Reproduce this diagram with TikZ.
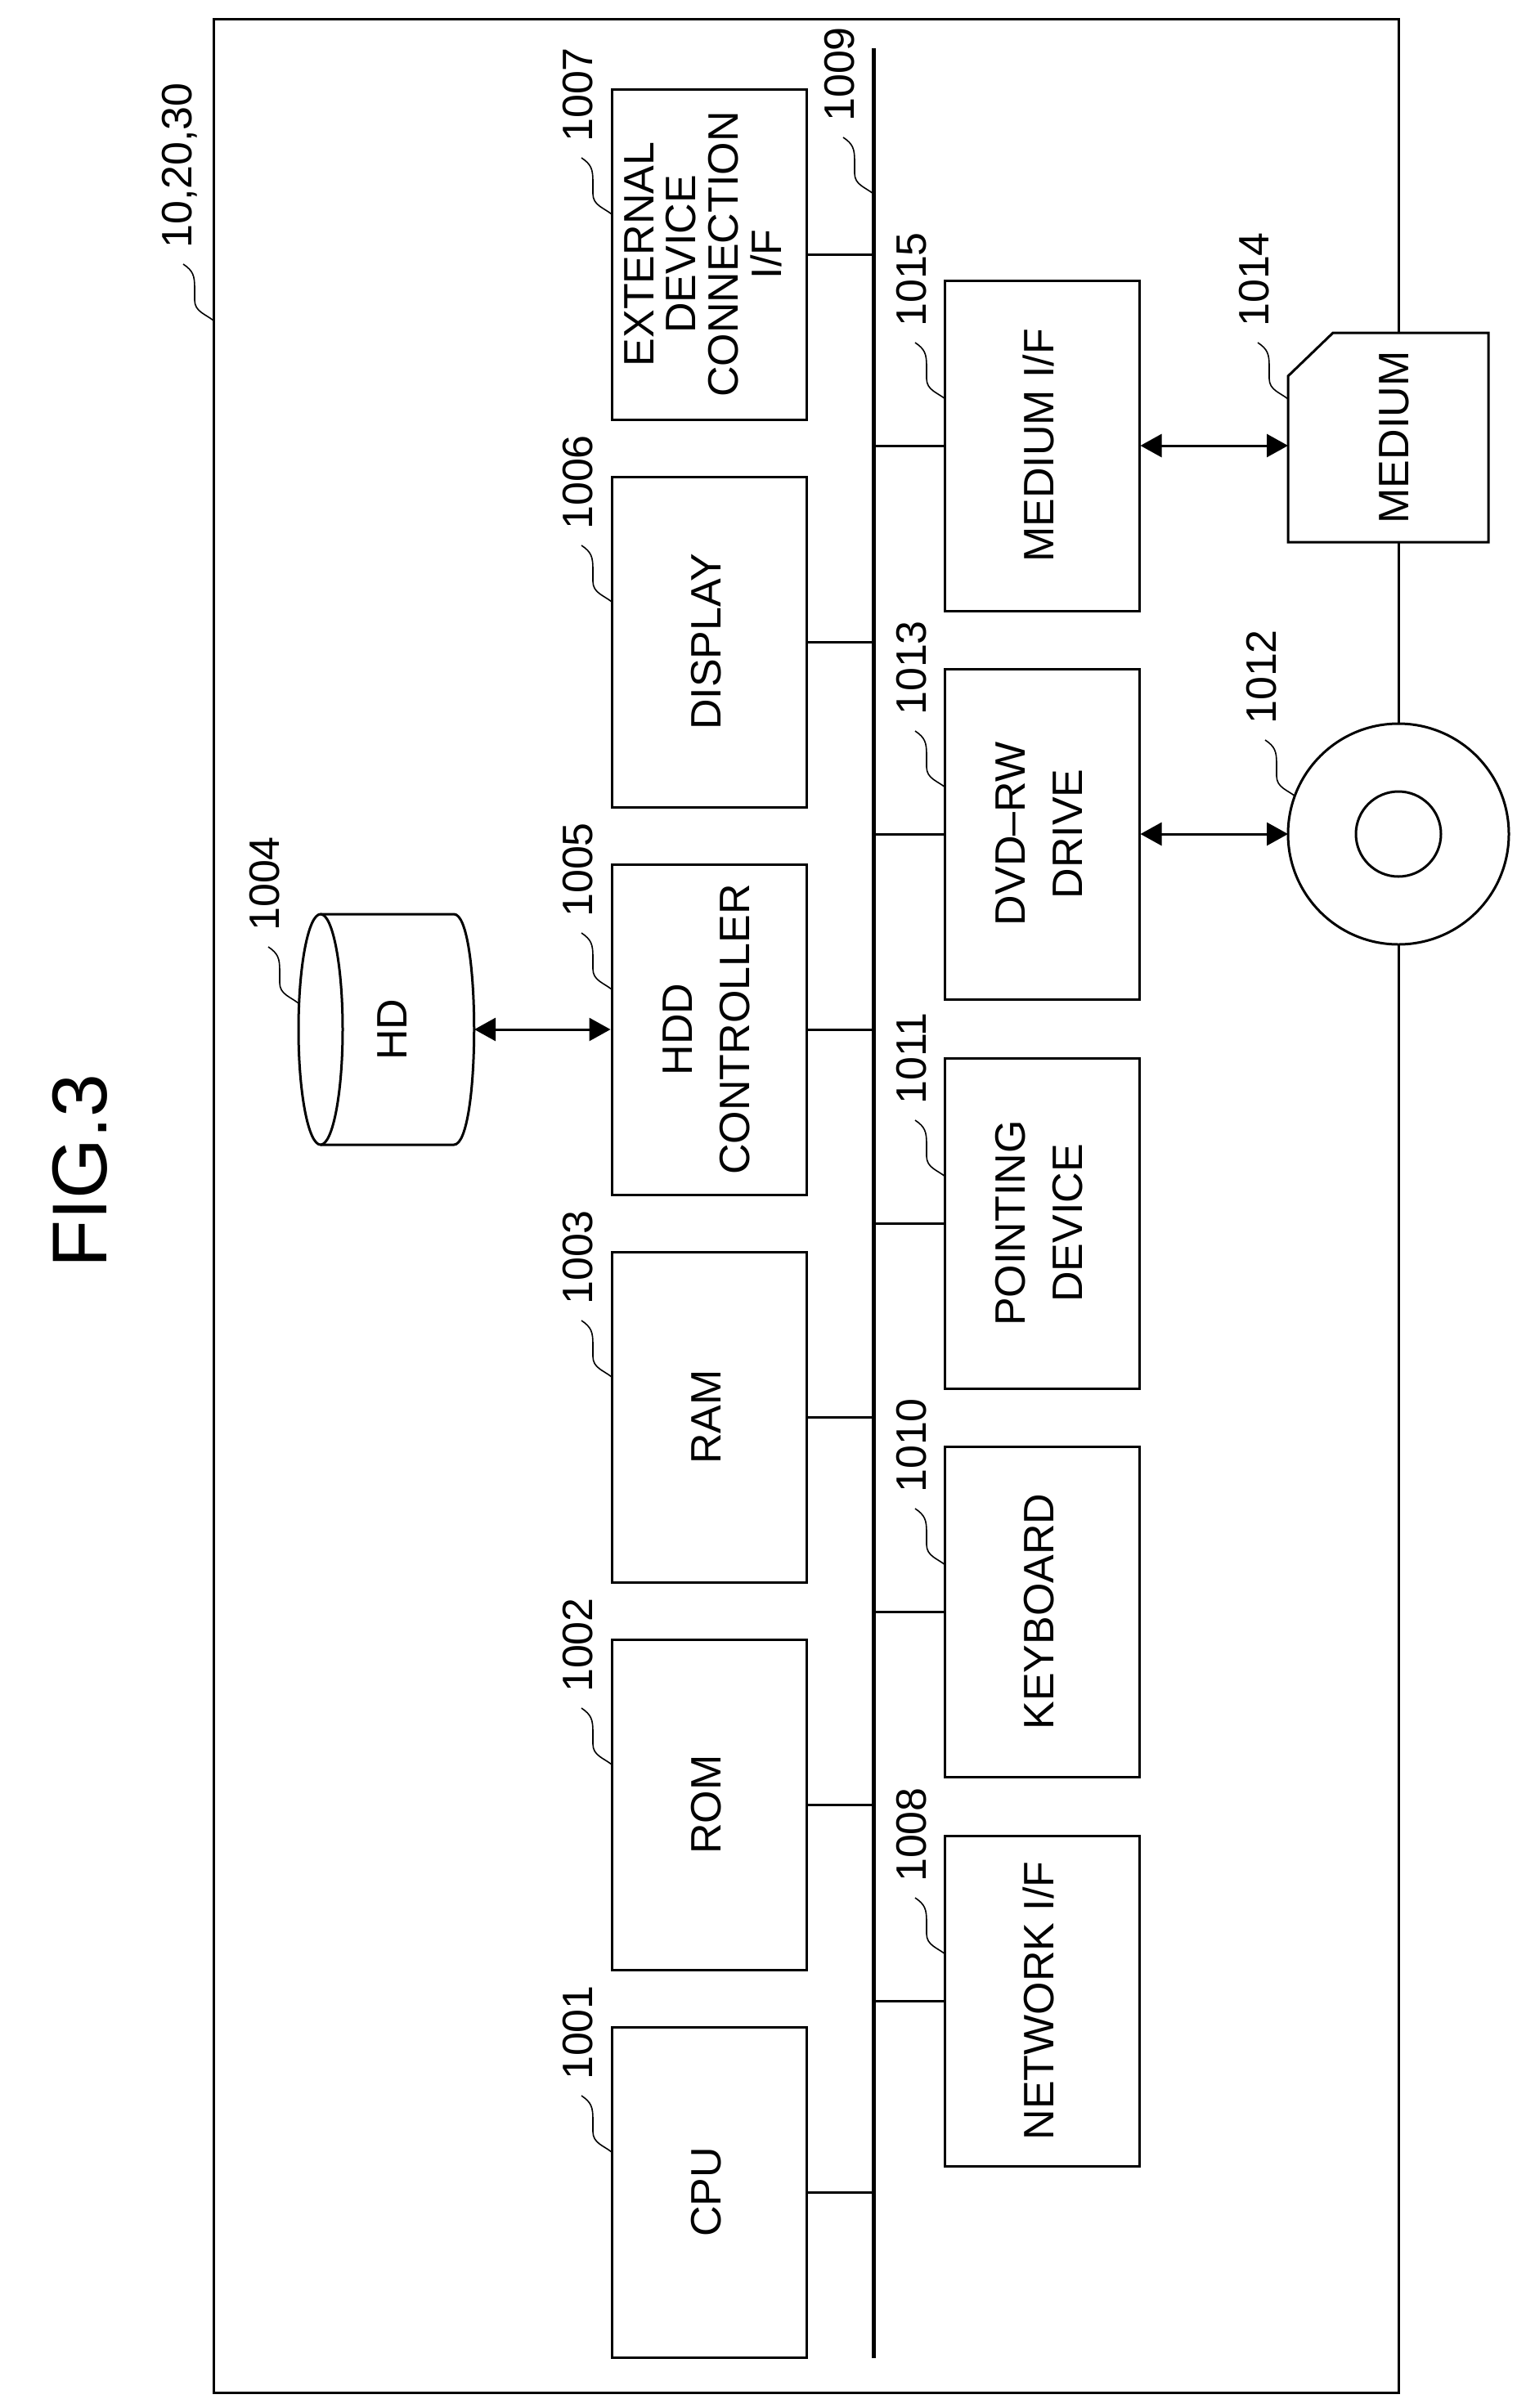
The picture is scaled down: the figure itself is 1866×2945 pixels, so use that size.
\documentclass[tikz,border=0pt]{standalone}
\usepackage{fontspec}
\setmainfont{Liberation Sans}
\usetikzlibrary{arrows.meta,calc}
\begin{document}
\begin{tikzpicture}[x=1pt,y=-1pt,
  box/.style={draw,line width=3pt,minimum width=238pt,minimum height=404pt,inner sep=0pt,font=\fontsize{52}{70}\selectfont},
  conn/.style={line width=3pt},
  dbl/.style={line width=3pt,{Triangle[length=26pt,width=28pt]}-{Triangle[length=26pt,width=28pt]}},
  sq/.style={line width=1.6pt},
  lab/.style={rotate=90,anchor=west,inner sep=0pt,font=\fontsize{52}{52}\selectfont}]
\newcommand{\rt}[1]{\rotatebox{90}{\begin{tabular}{@{}c@{}}#1\end{tabular}}}
\newcommand{\lbl}[4]{% name, x, y, text
  \coordinate (#1) at (#2,#3);
  \draw[sq] ($(#1)+(-37,-69)$) .. controls +(12,8) and +(0,-15) .. ($(#1)+(-23,-40)$) -- ($(#1)+(-23,-25)$) .. controls +(0,14) and +(-10,-8) .. (#1);
  \node[lab] at ($(#1)+(-41,-88)$) {#4};}
\useasboundingbox (0,0) rectangle (1866,2945);
% title
\node[rotate=90,font=\fontsize{95}{95}\selectfont] (title) at (98,1432) {FIG.3};
% frame and bus
\draw[line width=3pt] (261,23) rectangle (1710,2926);
\coordinate (bt) at (1068,59);
\coordinate (bb) at (1068,2884);
\draw[line width=5pt] (bt) -- (bb);
% left boxes
\node[box] (ext) at (867,311) {\fontsize{52}{51}\selectfont\rt{EXTERNAL\\DEVICE\\CONNECTION\\I/F}};
\node[box] (disp) at (867,785) {\rt{DISPLAY}};
\node[box] (hdd) at (867,1259) {\rt{HDD\\CONTROLLER}};
\node[box] (ram) at (867,1733) {\rt{RAM}};
\node[box] (rom) at (867,2207) {\rt{ROM}};
\node[box] (cpu) at (867,2681) {\rt{CPU}};
% right boxes
\node[box] (medif) at (1274,545) {\rt{MEDIUM I/F}};
\node[box] (dvd) at (1274,1020) {\rt{DVD--RW\\DRIVE}};
\node[box] (point) at (1274,1496) {\rt{POINTING\\DEVICE}};
\node[box] (kb) at (1274,1971) {\rt{KEYBOARD}};
\node[box] (net) at (1274,2447) {\rt{NETWORK I/F}};
\foreach \n in {ext,disp,hdd,ram,rom,cpu} \draw[conn] (\n.east) -- (\n.east -| bt);
\foreach \n in {medif,dvd,point,kb,net} \draw[conn] (\n.west) -- (\n.west -| bt);
% HD cylinder
\draw[line width=3pt,fill=white] (392,1118) -- (555,1118) .. controls (588,1118) and (588,1400) .. (555,1400) -- (392,1400);
\draw[line width=3pt] (392,1259) ellipse [x radius=27, y radius=141];
\node[font=\fontsize{52}{52}\selectfont,rotate=90] (hd) at (480,1259) {HD};
\coordinate (hdr) at (580,1259);
\draw[dbl] (hdr) -- (hdd.west);
% medium card
\draw[line width=3pt,fill=white] (1575,460) -- (1630,407) -- (1820,407) -- (1820,663) -- (1575,663) -- cycle;
\node[font=\fontsize{52}{52}\selectfont,rotate=90] (med) at (1705,535) {MEDIUM};
\coordinate (medl) at (1575,545);
\draw[dbl] (medif.east) -- (medl);
% disc
\draw[line width=3pt,fill=white] (1710,1020) circle [radius=135];
\draw[line width=3pt] (1710,1020) circle [radius=52];
\coordinate (discl) at (1575,1020);
\draw[dbl] (dvd.east) -- (discl);
% labels
\lbl{l1007}{748}{262}{1007}
\lbl{l1006}{748}{736}{1006}
\lbl{l1005}{748}{1210}{1005}
\lbl{l1003}{748}{1684}{1003}
\lbl{l1002}{748}{2158}{1002}
\lbl{l1001}{748}{2632}{1001}
\lbl{l1015}{1156}{488}{1015}
\lbl{l1013}{1156}{963}{1013}
\lbl{l1011}{1156}{1439}{1011}
\lbl{l1010}{1156}{1914}{1010}
\lbl{l1008}{1156}{2390}{1008}
\lbl{l1004}{365}{1227}{1004}
\lbl{l1012}{1584}{974}{1012}
\lbl{l1014}{1575}{488}{1014}
\lbl{l1009}{1068}{237}{1009}
\lbl{l10}{261}{392}{10,20,30}
\end{tikzpicture}
\end{document}
